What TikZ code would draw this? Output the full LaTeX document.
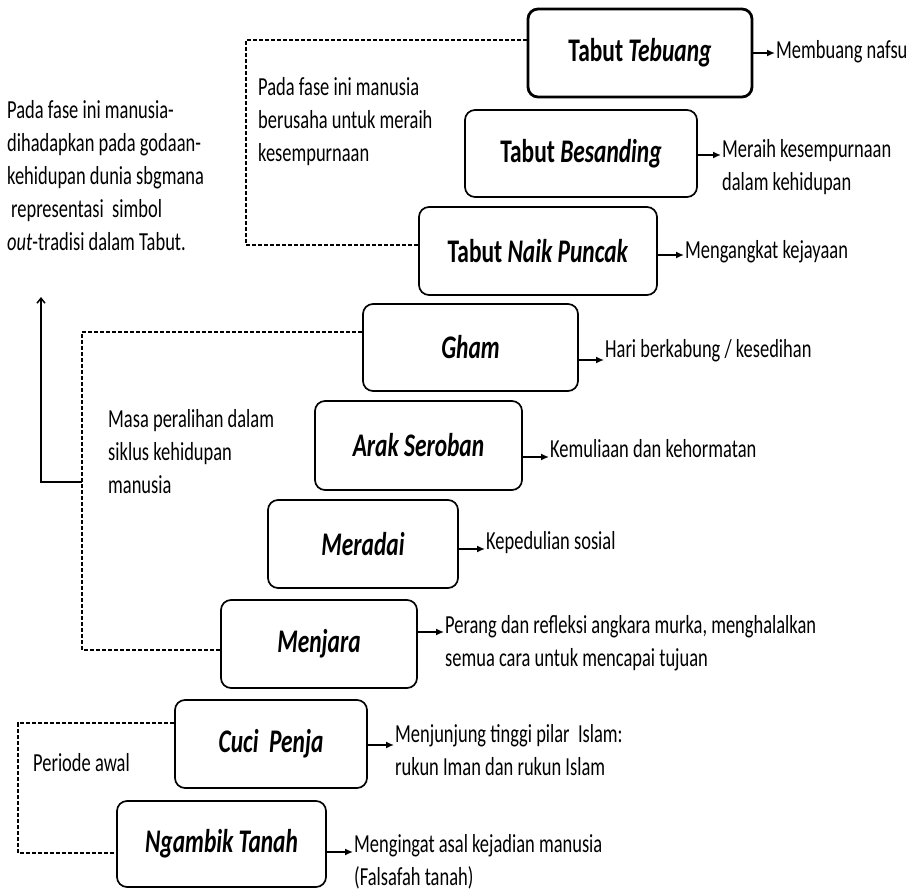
\documentclass[tikz,border=0pt]{standalone}
\usepackage{fontspec}
\setmainfont{Carlito}[FakeStretch=0.71]
\usetikzlibrary{arrows.meta}
\tikzset{
  stage/.style={draw, rounded corners=10pt, line width=1.7pt, inner sep=0pt,
    font=\fontsize{33}{40}\selectfont\bfseries},
  desc/.style={inner sep=0pt, align=left, anchor=north west,
    font=\fontsize{26}{33}\selectfont},
  arr/.style={line width=1.5pt, -{Latex[length=8pt,width=7pt]}, shorten >=1pt},
  brk/.style={line width=1.5pt, dash pattern=on 4pt off 2pt},
  uparr/.style={line width=1.5pt, -{Straight Barb[length=5pt,width=8pt]}}
}
\begin{document}
\begin{tikzpicture}[x=1pt,y=-1pt]
\useasboundingbox (0,0) rectangle (914,894);
% stage boxes
\node[stage, line width=2.8pt, minimum width=224pt, minimum height=88pt] (tebuang) at (640,53) {Tabut \textit{Tebuang}};
\node[stage, minimum width=232pt, minimum height=87pt] (besanding) at (581,153.5) {Tabut \textit{Besanding}};
\node[stage, minimum width=238pt, minimum height=88pt] (naik) at (538,251) {Tabut \textit{Naik Puncak}};
\node[stage, minimum width=215pt, minimum height=87pt] (gham) at (470.5,347.5) {\textit{Gham}};
\node[stage, minimum width=207pt, minimum height=89pt] (arak) at (418.5,445.5) {\textit{Arak Seroban}};
\node[stage, minimum width=190pt, minimum height=88pt] (meradai) at (363,544) {\textit{Meradai}};
\node[stage, minimum width=196pt, minimum height=88pt] (menjara) at (319,644) {\textit{Menjara}};
\node[stage, minimum width=192pt, minimum height=88pt] (cuci) at (271,744) {\textit{Cuci~~Penja}};
\node[stage, minimum width=209pt, minimum height=86pt] (ngambik) at (221.5,844) {\textit{Ngambik Tanah}};
% descriptions
\node[desc] (tebD) at (776,40.5) {Membuang nafsu};
\node[desc] (besD) at (722,139.5) {Meraih kesempurnaan\\dalam kehidupan};
\node[desc] (naikD) at (685,240.5) {Mengangkat kejayaan};
\node[desc] (ghamD) at (605,339.5) {Hari berkabung / kesedihan};
\node[desc] (arakD) at (550,439.5) {Kemuliaan dan kehormatan};
\node[desc] (meradaiD) at (486,531.5) {Kepedulian sosial};
\node[desc] (menjaraD) at (445,615.5) {Perang dan refleksi angkara murka, menghalalkan\\semua cara untuk mencapai tujuan};
\node[desc] (cuciD) at (395,724.5) {Menjunjung tinggi pilar~~Islam:\\rukun Iman dan rukun Islam};
\node[desc] (ngambikD) at (354,834.5) {Mengingat asal kejadian manusia\\(Falsafah tanah)};
% side texts
\node[desc] (leftT) at (7,100.5) {Pada fase ini manusia-\\dihadapkan pada godaan-\\kehidupan dunia sbgmana\\\hspace*{4pt}representasi~~simbol\\\textit{out}-tradisi dalam Tabut.};
\node[desc] (topT) at (258,77.5) {Pada fase ini manusia\\berusaha untuk meraih\\kesempurnaan};
\node[desc] (midT) at (108,409.5) {Masa peralihan dalam\\siklus kehidupan\\manusia};
\node[desc, anchor=west] (botT) at (33,763) {Periode awal};
% arrows to descriptions
\draw[arr] (tebuang.east |- 0,53) -- (tebD.west |- 0,53);
\draw[arr] (besanding.east |- 0,155) -- (besD.west |- 0,155);
\draw[arr] (naik.east |- 0,255) -- (naikD.west |- 0,255);
\draw[arr] (gham.east |- 0,360) -- (ghamD.west |- 0,360);
\draw[arr] (arak.east |- 0,457) -- (arakD.west |- 0,457);
\draw[arr] (meradai.east |- 0,549) -- (meradaiD.west |- 0,549);
\draw[arr] (menjara.east |- 0,632) -- (menjaraD.west |- 0,632);
\draw[arr] (cuci.east |- 0,745) -- (cuciD.west |- 0,745);
\draw[arr] (ngambik.east |- 0,852) -- (ngambikD.west |- 0,852);
% dashed brackets
\coordinate (c1) at (246,150);
\coordinate (c2) at (82,480);
\coordinate (c3) at (18,790);
\draw[brk] ([yshift=13pt]tebuang.west) -| (c1) |- ([yshift=6pt]naik.west);
\draw[brk] ([yshift=15.5pt]gham.west) -| (c2) |- ([yshift=-6pt]menjara.west);
\draw[brk] ([yshift=21pt]cuci.west) -| (c3) |- ([yshift=-9pt]ngambik.west);
% upward arrow
\coordinate (m1) at (82,482);
\coordinate (upEnd) at (41,297);
\draw[uparr] (m1) -| (upEnd);
\end{tikzpicture}
\end{document}
